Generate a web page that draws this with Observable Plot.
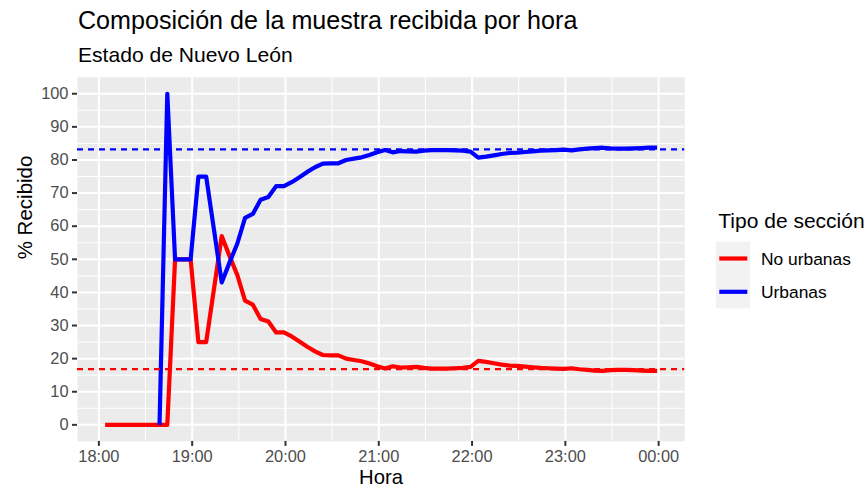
<!DOCTYPE html>
<html>
<head>
<meta charset="utf-8">
<script src="https://cdn.jsdelivr.net/npm/d3@7"></script>
<script src="https://cdn.jsdelivr.net/npm/@observablehq/plot@0.6"></script>
<style>
  html, body { margin: 0; padding: 0; background: #ffffff; }
  #wrap { position: relative; width: 868px; height: 488px; overflow: hidden;
          font-family: "Liberation Sans", Arial, Helvetica, sans-serif; }
  #header { position: relative; width: 868px; height: 68px; }
  #title { position: absolute; left: 78px; top: 8.3px; font-size: 25.1px; line-height: 25.1px; color: #000; white-space: nowrap; }
  #subtitle { position: absolute; left: 78px; top: 43.6px; font-size: 21.1px; line-height: 21.1px; color: #000; white-space: nowrap; }
  #chart svg { display: block; }
  #legend { position: absolute; left: 700px; top: 200px; }
</style>
</head>
<body>
<div id="wrap">
  <div id="header">
    <div id="title">Composición de la muestra recibida por hora</div>
    <div id="subtitle">Estado de Nuevo León</div>
  </div>
  <div id="chart"></div>
  <div id="legend"></div>
</div>
<script>
// ---------------- data ----------------
const horas = [
  "18:04","18:09","18:14","18:19","18:24","18:29","18:34","18:39","18:44","18:49","18:54","18:59",
  "19:04","19:09","19:14","19:19","19:24","19:29","19:34","19:39","19:44","19:49","19:54","19:59",
  "20:04","20:09","20:14","20:19","20:24","20:29","20:34","20:39","20:44","20:49","20:54","20:59",
  "21:04","21:09","21:14","21:19","21:24","21:29","21:34","21:39","21:44","21:49","21:54","21:59",
  "22:04","22:09","22:14","22:19","22:24","22:29","22:34","22:39","22:44","22:49","22:54","22:59",
  "23:04","23:09","23:14","23:19","23:24","23:29","23:34","23:39","23:44","23:49","23:54","23:59"
];
const noUrbanas = [
  0, 0, 0, 0, 0, 0, 0, 0, 0, 50, 50, 50,
  25, 25, 41, 57, 51, 45.3, 37.5, 36.3, 32, 31.2, 27.9, 27.9,
  26.7, 25.2, 23.6, 22.2, 21.1, 21.0, 21.0, 20.0, 19.6, 19.2, 18.5, 17.7,
  17.0, 17.7, 17.3, 17.4, 17.5, 17.2, 17.0, 17.0, 17.0, 17.1, 17.2, 17.5,
  19.3, 19.0, 18.6, 18.2, 17.9, 17.8, 17.6, 17.4, 17.2, 17.1, 17.0, 16.9,
  17.1, 16.8, 16.6, 16.4, 16.3, 16.5, 16.6, 16.6, 16.5, 16.4, 16.3, 16.3
];
const urbanas = [
  null, null, null, null, null, null, null, 0, 100, 50, 50, 50,
  75, 75, 59, 43, 49, 54.7, 62.5, 63.7, 68, 68.8, 72.1, 72.1,
  73.3, 74.8, 76.4, 77.8, 78.9, 79.0, 79.0, 80.0, 80.4, 80.8, 81.5, 82.3,
  83.0, 82.3, 82.7, 82.6, 82.5, 82.8, 83.0, 83.0, 83.0, 82.9, 82.8, 82.5,
  80.7, 81.0, 81.4, 81.8, 82.1, 82.2, 82.4, 82.6, 82.8, 82.9, 83.0, 83.1,
  82.9, 83.2, 83.4, 83.6, 83.7, 83.5, 83.4, 83.4, 83.5, 83.6, 83.7, 83.7
];
const mediaUrbanas = 83.2;
const mediaNoUrbanas = 16.8;
const tiposSeccion = ["No urbanas", "Urbanas"];
const coloresTipo = ["#FF0000", "#0000FF"];
const xTickLabels = ["18:00","19:00","20:00","21:00","22:00","23:00","00:00"];
const xMinorLabels = ["18:30","19:30","20:30","21:30","22:30","23:30"];
const yTicks = [0, 10, 20, 30, 40, 50, 60, 70, 80, 90, 100];
const yMinor = [5, 15, 25, 35, 45, 55, 65, 75, 85, 95];

// ---------------- helpers ----------------
function toDate(s) {
  const [h, m] = s.split(":").map(Number);
  return new Date(Date.UTC(2024, 5, 2 + (h < 12 ? 1 : 0), h, m));
}
const rowsNo = horas.map((h, i) => ({hora: toDate(h), pct: noUrbanas[i], tipo: tiposSeccion[0]}));
const rowsUr = horas.map((h, i) => ({hora: toDate(h), pct: urbanas[i], tipo: tiposSeccion[1]}))
                    .filter(d => d.pct != null);
const ext = d3.extent(horas.map(toDate));
const span = ext[1] - ext[0];
const xDomain = [new Date(+ext[0] - 0.05 * span), new Date(+ext[1] + 0.05 * span)];
const majorX = xTickLabels.map(toDate);
const minorX = xMinorLabels.map(toDate);

const FONT = '"Liberation Sans", Arial, Helvetica, sans-serif';

const chart = Plot.plot({
  width: 868,
  height: 420,
  marginTop: 8.7,
  marginBottom: 47.1,
  marginLeft: 77,
  marginRight: 183.8,
  style: {fontFamily: FONT, background: "transparent", overflow: "visible"},
  x: {type: "utc", domain: xDomain},
  y: {domain: [-5, 105]},
  marks: [
    Plot.frame({fill: "#EBEBEB", stroke: "none"}),
    Plot.gridX(minorX, {stroke: "#FFFFFF", strokeOpacity: 1, strokeWidth: 1}),
    Plot.gridY(yMinor, {stroke: "#FFFFFF", strokeOpacity: 1, strokeWidth: 1}),
    Plot.gridX(majorX, {stroke: "#FFFFFF", strokeOpacity: 1, strokeWidth: 2}),
    Plot.gridY(yTicks, {stroke: "#FFFFFF", strokeOpacity: 1, strokeWidth: 2}),
    Plot.line(rowsNo, {x: "hora", y: "pct", stroke: coloresTipo[0], strokeWidth: 4.2,
                       strokeLinejoin: "round", strokeLinecap: "butt"}),
    Plot.line(rowsUr, {x: "hora", y: "pct", stroke: coloresTipo[1], strokeWidth: 4.2,
                       strokeLinejoin: "round", strokeLinecap: "butt"}),
    Plot.ruleY([mediaUrbanas], {stroke: coloresTipo[1], strokeWidth: 2.2, strokeDasharray: "6,5"}),
    Plot.ruleY([mediaNoUrbanas], {stroke: coloresTipo[0], strokeWidth: 2.2, strokeDasharray: "6,5"}),
    Plot.axisX(majorX, {tickSize: 5, tickPadding: 4, tickFormat: d3.utcFormat("%H:%M"),
                        stroke: "#333333", strokeWidth: 2, fill: "#4D4D4D", fontSize: 16.4, label: null}),
    Plot.axisY(yTicks, {tickSize: 5, tickPadding: 4, stroke: "#333333", strokeWidth: 2,
                        fill: "#4D4D4D", fontSize: 16.4, label: null}),
    Plot.text(["Hora"], {text: d => d, frameAnchor: "bottom", dy: 42.7, lineAnchor: "bottom",
                         fontSize: 20.3, fill: "#000000"}),
    Plot.text(["% Recibido"], {text: d => d, frameAnchor: "left", dx: -46, rotate: -90,
                               lineAnchor: "bottom", fontSize: 20.5, fill: "#000000"})
  ]
});
document.getElementById("chart").appendChild(chart);

// ---------------- legend ----------------
const lg = d3.select("#legend").append("svg")
  .attr("width", 168).attr("height", 120)
  .style("font-family", FONT).style("overflow", "visible");
lg.append("text").attr("x", 18.3).attr("y", 28.3)
  .attr("font-size", 21).attr("fill", "#000").text("Tipo de sección");
tiposSeccion.forEach((t, i) => {
  const y0 = 41.7 + i * 33.3;
  lg.append("rect").attr("x", 16).attr("y", y0).attr("width", 34).attr("height", 33.3).attr("fill", "#F2F2F2");
  lg.append("line").attr("x1", 19.3).attr("x2", 47.3).attr("y1", y0 + 16.8).attr("y2", y0 + 16.8)
    .attr("stroke", coloresTipo[i]).attr("stroke-width", 4.2);
  lg.append("text").attr("x", 61).attr("y", y0 + 16.8 + 6.4)
    .attr("font-size", 17.4).attr("fill", "#000").text(t);
});
</script>
</body>
</html>
